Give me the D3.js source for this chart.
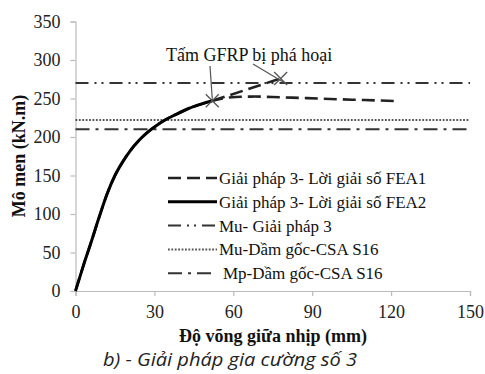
<!DOCTYPE html>
<html><head><meta charset="utf-8">
<script src="https://cdn.jsdelivr.net/npm/d3@7"></script>
<style>
html,body{margin:0;padding:0;background:#fff;}
svg{display:block;}
</style></head>
<body>
<svg id="c" width="485" height="374"></svg>
<script>
// ---- data ----
const xTicks = [0, 30, 60, 90, 120, 150];
const yTicks = [0, 50, 100, 150, 200, 250, 300, 350];
// FEA2 (solid) up to GFRP failure
const fea2X = [0, 3, 6, 9, 12, 15, 18, 21, 24, 27, 30, 34, 38, 43, 48, 52];
const fea2Y = [0, 33, 64, 96, 126, 150, 168, 183, 195, 205, 213, 222, 229, 237, 243, 247];
// FEA1 (dashed) – same loading branch, then post-failure branch
const fea1X = [0, 3, 6, 9, 12, 15, 18, 21, 24, 27, 30, 34, 38, 43, 48, 52, 56, 61, 68, 78, 88, 100, 110, 123];
const fea1Y = [0, 33, 64, 96, 126, 150, 168, 183, 195, 205, 213, 222, 229, 237, 243, 247, 250, 252, 252.5, 251.5, 250.5, 249, 248, 246.5];
// FEA1 upper branch to the second failure point
const upperX = [52, 78];
const upperY = [247, 276];
// horizontal reference levels
const muGP3 = 270;
const muCSA = 222;
const mpCSA = 210;
// GFRP failure points
const failX = [52, 78];
const failY = [247, 276];
const legendLabels = [
  "Giải pháp 3- Lời giải số FEA1",
  "Giải pháp 3- Lời giải số FEA2",
  "Mu- Giải pháp 3",
  "Mu-Dầm gốc-CSA S16",
  "Mp-Dầm gốc-CSA S16"
];
const annotation = "Tấm GFRP bị phá hoại";
const xTitle = "Độ võng giữa nhịp (mm)";
const yTitle = "Mô men (kN.m)";
const caption = "b) - Giải pháp gia cường số 3";

// ---- drawing ----
const svg = d3.select("#c");
const serif = "Liberation Serif";
const x = d3.scaleLinear().domain([0, 150]).range([75.5, 470]);
const y = d3.scaleLinear().domain([0, 350]).range([291, 21.5]);

const styles = {
  fea1: {stroke: "#222", w: 2.6, dash: "13,6"},
  fea2: {stroke: "#000", w: 3, dash: null},
  mu3: {stroke: "#333", w: 2, dash: "13,6,2,5,2,6"},
  mucsa: {stroke: "#555", w: 2, dash: "1.8,1.6"},
  mp: {stroke: "#333", w: 2, dash: "14,6,3,6"}
};

// axes
const xAxis = svg.append("g").attr("transform", `translate(0,${y(0)})`)
  .call(d3.axisBottom(x).tickValues(xTicks).tickSize(5).tickPadding(9).tickFormat(d3.format("d")));
const yAxis = svg.append("g").attr("transform", `translate(${x(0)},0)`)
  .call(d3.axisLeft(y).tickValues(yTicks).tickSize(5).tickPadding(10).tickFormat(d3.format("d")));
[xAxis, yAxis].forEach(g => {
  g.attr("font-family", serif).attr("font-size", 18);
  g.selectAll("path.domain").attr("stroke", "#bbb").attr("stroke-width", 1.2);
  g.selectAll(".tick line").attr("stroke", "#bbb").attr("stroke-width", 1.2);
  g.selectAll("text").attr("font-family", serif).attr("font-size", 18).attr("fill", "#222");
});

// horizontal lines
function hline(v, s) {
  svg.append("line").attr("x1", x(0)).attr("x2", x(150)).attr("y1", y(v)).attr("y2", y(v))
    .attr("stroke", s.stroke).attr("stroke-width", s.w).attr("stroke-dasharray", s.dash);
}
hline(muGP3, styles.mu3);
hline(muCSA, styles.mucsa);
hline(mpCSA, styles.mp);

const line = d3.line().x(d => x(d[0])).y(d => y(d[1])).curve(d3.curveMonotoneX);
function series(xs, ys, s) {
  svg.append("path").datum(xs.map((v, i) => [v, ys[i]])).attr("d", line)
    .attr("fill", "none").attr("stroke", s.stroke).attr("stroke-width", s.w)
    .attr("stroke-dasharray", s.dash).attr("stroke-linejoin", "round");
}
series(fea1X, fea1Y, styles.fea1);
series(upperX, upperY, styles.fea1);
series(fea2X, fea2Y, styles.fea2);

// failure markers (X)
failX.forEach((v, i) => {
  const cx = x(v), cy = y(failY[i]), r = 6.5;
  svg.append("path").attr("d", `M${cx - r},${cy - r}L${cx + r},${cy + r}M${cx - r},${cy + r}L${cx + r},${cy - r}`)
    .attr("stroke", "#555").attr("stroke-width", 1.3);
});

// annotation
svg.append("text").attr("x", 166).attr("y", 61).attr("font-family", serif).attr("font-size", 18)
  .attr("fill", "#111").text(annotation);
svg.append("line").attr("x1", 210).attr("y1", 66).attr("x2", x(failX[0])).attr("y2", y(failY[0]) - 2)
  .attr("stroke", "#555").attr("stroke-width", 1.2);
svg.append("line").attr("x1", 253).attr("y1", 64).attr("x2", x(failX[1]) + 5).attr("y2", y(failY[1]) + 5)
  .attr("stroke", "#555").attr("stroke-width", 1.2);

// legend
const legStyles = [styles.fea1, styles.fea2, styles.mu3, styles.mucsa, styles.mp];
const legY0 = 178, legDy = 23.8;
legendLabels.forEach((t, i) => {
  const ly = legY0 + i * legDy;
  const s = legStyles[i];
  svg.append("line").attr("x1", 168).attr("x2", 217).attr("y1", ly).attr("y2", ly)
    .attr("stroke", s.stroke).attr("stroke-width", s.w).attr("stroke-dasharray", s.dash);
  svg.append("text").attr("x", i === 4 ? 223 : 219).attr("y", ly + 6).attr("font-family", serif)
    .attr("font-size", 17).attr("fill", "#111").text(t);
});

// axis titles
svg.append("text").attr("x", 273).attr("y", 342).attr("text-anchor", "middle").attr("font-family", serif)
  .attr("font-size", 18).attr("font-weight", "bold").attr("fill", "#111").text(xTitle);
svg.append("text").attr("transform", `translate(25,156) rotate(-90)`).attr("text-anchor", "middle").attr("font-family", serif)
  .attr("font-size", 18).attr("font-weight", "bold").attr("fill", "#111").text(yTitle);

// caption
svg.append("text").attr("x", 103).attr("y", 366)
  .attr("font-family", "Open Sans").attr("font-size", 18).attr("font-style", "italic")
  .attr("textLength", 254).attr("lengthAdjust", "spacingAndGlyphs")
  .attr("fill", "#222").text(caption);
</script>
</body></html>
